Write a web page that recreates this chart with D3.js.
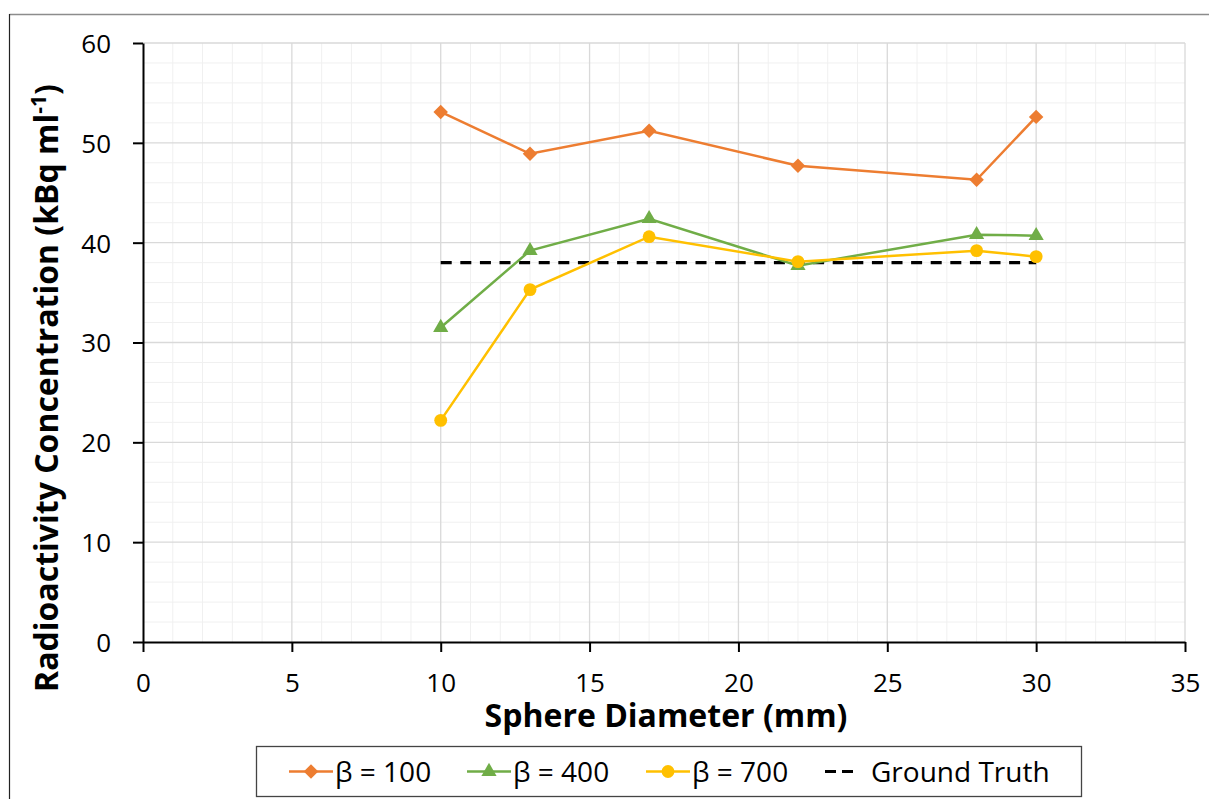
<!DOCTYPE html>
<html>
<head>
<meta charset="utf-8">
<script src="https://cdn.jsdelivr.net/npm/d3@7"></script>
<style>
  html, body { margin: 0; padding: 0; background: #fff; }
  svg { display: block; font-family: "Open Sans", "Noto Sans", sans-serif; }
</style>
</head>
<body>
<svg id="chart" width="1209" height="799"></svg>
<script>
// Sphere diameters (mm) and measured concentrations (kBq/ml)
const diameters = [10, 13, 17, 22, 28, 30];
const beta100 = [53.1, 48.9, 51.2, 47.7, 46.3, 52.6];
const beta400 = [31.5, 39.2, 42.4, 37.7, 40.8, 40.7];
const beta700 = [22.2, 35.3, 40.6, 38.1, 39.2, 38.6];
const groundTruth = 38;
const groundTruthRange = [10, 30];
const xTicks = [0, 5, 10, 15, 20, 25, 30, 35];
const yTicks = [0, 10, 20, 30, 40, 50, 60];

// Excel-style diamond: a square turned 45 degrees
const symbolRhomb = {
  draw(ctx, size) {
    const r = Math.sqrt(size / 2);
    ctx.moveTo(0, -r); ctx.lineTo(r, 0); ctx.lineTo(0, r); ctx.lineTo(-r, 0); ctx.closePath();
  }
};

const series = [
  { name: "β = 100", values: beta100, color: "#ED7D31", symbol: symbolRhomb, size: 105 },
  { name: "β = 400", values: beta400, color: "#70AD47", symbol: d3.symbolTriangle, size: 100 },
  { name: "β = 700", values: beta700, color: "#FFC000", symbol: d3.symbolCircle, size: 130 }
];

const svg = d3.select("#chart");
const plot = { left: 143, right: 1185, top: 43, bottom: 642 };

const x = d3.scaleLinear().domain([0, 35]).range([plot.left, plot.right]);
const y = d3.scaleLinear().domain([0, 60]).range([plot.bottom, plot.top]);

// Outer chart frame
svg.append("line").attr("x1", 9.5).attr("x2", 1209).attr("y1", 14.5).attr("y2", 14.5)
  .attr("stroke", "#8c8c8c").attr("stroke-width", 1.5);
svg.append("line").attr("x1", 9.5).attr("x2", 9.5).attr("y1", 14).attr("y2", 799)
  .attr("stroke", "#222").attr("stroke-width", 1.2);

// Minor gridlines
const grid = svg.append("g");
grid.selectAll(".mx").data(d3.range(1, 35).filter(v => v % 5 !== 0)).join("line")
  .attr("x1", d => x(d)).attr("x2", d => x(d)).attr("y1", y(0)).attr("y2", y(60))
  .attr("stroke", "#f0f0f0").attr("stroke-width", 1);
grid.selectAll(".my").data(d3.range(2, 60, 2).filter(v => v % 10 !== 0)).join("line")
  .attr("y1", d => y(d)).attr("y2", d => y(d)).attr("x1", x(0)).attr("x2", x(35))
  .attr("stroke", "#f0f0f0").attr("stroke-width", 1);
// Major gridlines
grid.selectAll(".Mx").data(xTicks.slice(1)).join("line")
  .attr("x1", d => x(d)).attr("x2", d => x(d)).attr("y1", y(0)).attr("y2", y(60))
  .attr("stroke", "#d9d9d9").attr("stroke-width", 1.3);
grid.selectAll(".My").data(yTicks.slice(1)).join("line")
  .attr("y1", d => y(d)).attr("y2", d => y(d)).attr("x1", x(0)).attr("x2", x(35))
  .attr("stroke", "#d9d9d9").attr("stroke-width", 1.3);

// Axes
const xAxis = svg.append("g").attr("transform", `translate(0,${y(0)})`)
  .call(d3.axisBottom(x).tickValues(xTicks).tickSize(10).tickPadding(22).tickSizeOuter(0));
const yAxis = svg.append("g").attr("transform", `translate(${x(0)},0)`)
  .call(d3.axisLeft(y).tickValues(yTicks).tickSize(10).tickPadding(22).tickSizeOuter(0));
[xAxis, yAxis].forEach(a => {
  a.select(".domain").attr("stroke", "#000").attr("stroke-width", 2);
  a.selectAll(".tick line").attr("stroke", "#000").attr("stroke-width", 2);
  a.selectAll(".tick text").attr("fill", "#000").attr("font-size", 26)
    .attr("font-family", "'Open Sans', sans-serif");
});
xAxis.selectAll(".tick text").attr("dy", "0.71em");
yAxis.selectAll(".tick text").attr("dy", "0.36em");

// Axis titles
svg.append("text").attr("x", x(17.5) + 2).attr("y", 727).attr("text-anchor", "middle")
  .attr("font-size", 32).attr("font-weight", "bold").text("Sphere Diameter (mm)");
const yt = svg.append("text")
  .attr("transform", `translate(58,388) rotate(-90)`)
  .attr("text-anchor", "middle").attr("font-size", 32).attr("font-weight", "bold");
yt.append("tspan").text("Radioactivity Concentration (kBq ml");
yt.append("tspan").attr("font-size", 21).attr("dy", -12).text("-1");
yt.append("tspan").attr("dy", 12).text(")");

// Ground truth line
svg.append("line")
  .attr("x1", x(groundTruthRange[0])).attr("x2", x(groundTruthRange[1]))
  .attr("y1", y(groundTruth)).attr("y2", y(groundTruth))
  .attr("stroke", "#000").attr("stroke-width", 3.2).attr("stroke-dasharray", "11,8.6");

// Series lines and markers
const line = d3.line().x((d, i) => x(diameters[i])).y(d => y(d));
series.forEach(s => {
  svg.append("path").datum(s.values).attr("d", line)
    .attr("fill", "none").attr("stroke", s.color).attr("stroke-width", 2.5);
  svg.append("g").selectAll("path").data(s.values).join("path")
    .attr("transform", (d, i) => `translate(${x(diameters[i])},${y(d)})`)
    .attr("d", d3.symbol().type(s.symbol).size(s.size))
    .attr("fill", s.color);
});

// Legend
const lg = svg.append("g");
lg.append("rect").attr("x", 256.5).attr("y", 746.5).attr("width", 825).attr("height", 50)
  .attr("fill", "#fff").attr("stroke", "#444").attr("stroke-width", 1.3);
const legendY = 771.5;
const itemX = [289, 467, 646];
series.forEach((s, i) => {
  const lx = itemX[i];
  lg.append("line").attr("x1", lx).attr("x2", lx + 44).attr("y1", legendY).attr("y2", legendY)
    .attr("stroke", s.color).attr("stroke-width", 2.5);
  lg.append("path").attr("transform", `translate(${lx + 22},${legendY})`)
    .attr("d", d3.symbol().type(s.symbol).size(s.size)).attr("fill", s.color);
  lg.append("text").attr("x", lx + 46).attr("y", legendY).attr("dy", "0.36em")
    .attr("font-size", 28).text(s.name);
});
lg.append("line").attr("x1", 825).attr("x2", 853).attr("y1", legendY).attr("y2", legendY)
  .attr("stroke", "#000").attr("stroke-width", 3.2).attr("stroke-dasharray", "11,6");
lg.append("text").attr("x", 871).attr("y", legendY).attr("dy", "0.36em")
  .attr("font-size", 28).text("Ground Truth");
</script>
</body>
</html>
